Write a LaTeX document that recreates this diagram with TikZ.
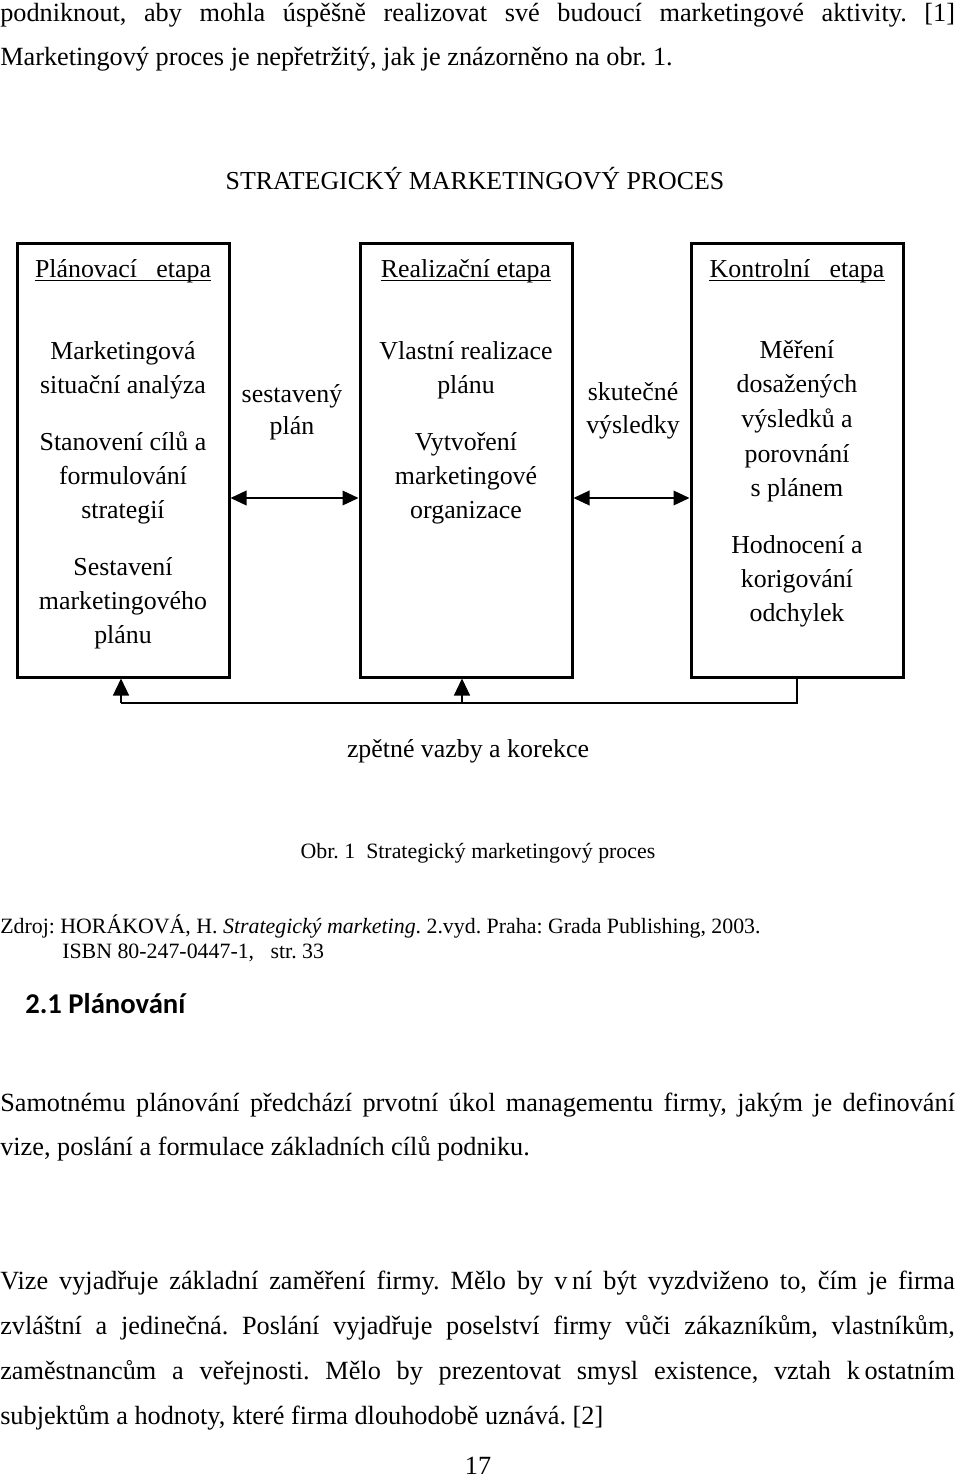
\documentclass[tikz,border=0pt]{standalone}
\usepackage{fontspec}
\setmainfont{Liberation Serif}
\newfontfamily\headfont{Carlito}
\usetikzlibrary{arrows.meta}
\frenchspacing
\tikzset{
  body/.style={anchor=base west, inner sep=0pt, font=\fontsize{19.7}{25.5}\selectfont},
  bodyc/.style={anchor=base, inner sep=0pt, font=\fontsize{19.7}{25.5}\selectfont},
  diag/.style={anchor=base, inner sep=0pt, font=\fontsize{19.4}{25.5}\selectfont},
  small/.style={anchor=base west, inner sep=0pt, font=\fontsize{16.4}{20}\selectfont},
  smallc/.style={anchor=base, inner sep=0pt, font=\fontsize{16.4}{20}\selectfont},
  stage/.style={draw, line width=2.25pt, minimum width=159pt, minimum height=325.5pt, inner sep=0pt},
  grp/.style={anchor=base, inner sep=0pt, font=\fontsize{19.4}{25.6}\selectfont},
  dbl/.style={{Triangle[length=12pt,width=11pt]}-{Triangle[length=12pt,width=11pt]}, line width=1.1pt},
  fb/.style={line width=0.9pt},
  fbarr/.style={-{Triangle[length=12.75pt,width=12pt]}, line width=0.9pt},
}
\newcommand\jline[1]{\makebox[716pt][s]{#1}}
\newcommand\grpbox[1]{\parbox[t]{180pt}{\centering #1}}
\begin{document}
\begin{tikzpicture}[x=0.75pt,y=-0.75pt]
\useasboundingbox (0,0) rectangle (960,1478);
% top text
\node[body] (l1) at (0,21) {\jline{podniknout, aby mohla úspěšně realizovat své budoucí marketingové aktivity. [1]}};
\node[body] (l2) at (0,65) {Marketingový proces je nepřetržitý, jak je znázorněno na obr. 1.};
\node[diag] (title) at (475,189) {STRATEGICKÝ MARKETINGOVÝ PROCES};
% boxes
\node[stage] (b1) at (123,460) {};
\node[stage] (b2) at (466,460) {};
\node[stage] (b3) at (797,460) {};
% headers
\node[diag] (h1) at (123,277) {Plánovací\ \ \ etapa};
\node[diag] (h2) at (466,277) {Realizační etapa};
\node[diag] (h3) at (797,277) {Kontrolní\ \ \ etapa};
\foreach \h in {h1,h2,h3}{
  \draw[line width=0.8pt] ([yshift=-2.3pt]\h.base west) -- ([yshift=-2.3pt]\h.base east);
}
% box 1 texts
\node[grp] (t11) at (123,359) {\grpbox{Marketingová\\situační analýza}};
\node[grp] (t12) at (123,450) {\grpbox{Stanovení cílů a\\formulování\\strategií}};
\node[grp] (t13) at (123,575) {\grpbox{Sestavení\\marketingového\\plánu}};
% box 2 texts
\node[grp] (t21) at (466,359) {\grpbox{Vlastní realizace\\plánu}};
\node[grp] (t22) at (466,450) {\grpbox{Vytvoření\\marketingové\\organizace}};
% box 3 texts
\node[grp, font=\fontsize{19.4}{26}\selectfont] (t31) at (797,358) {\grpbox{Měření\\dosažených\\výsledků a\\porovnání\\s plánem}};
\node[grp] (t32) at (797,553) {\grpbox{Hodnocení a\\korigování\\odchylek}};
% middle labels
\node[grp, font=\fontsize{19.4}{24}\selectfont] (m1) at (292,402) {\grpbox{sestavený\\plán}};
\node[grp, font=\fontsize{19.4}{24.75}\selectfont] (m2) at (633,400) {\grpbox{skutečné\\výsledky}};
% double arrows
\coordinate (ay) at (0,498);
\draw[dbl] (b1.east |- ay) -- (b2.west |- ay);
\draw[dbl] (b2.east |- ay) -- (b3.west |- ay);
% feedback
\coordinate (fy) at (0,703);
\coordinate (f1) at (121,703);
\coordinate (f2) at (462,703);
\draw[fb] (b3.south) -- (b3.south |- fy) -- (f1);
\draw[fbarr] (f1) -- (f1 |- b1.south);
\draw[fbarr] (f2) -- (f2 |- b2.south);
\node[diag] (fbl) at (468,757) {zpětné vazby a korekce};
% caption and source
\node[smallc] (cap) at (478,858) {Obr. 1\ \ Strategický marketingový proces};
\node[small] (src1) at (0,933) {Zdroj: HORÁKOVÁ, H. \textit{Strategický marketing}. 2.vyd. Praha: Grada Publishing, 2003.};
\node[small] (src2) at (62,958) {ISBN 80-247-0447-1,\ \ \ str. 33};
% heading
\node[anchor=base west, inner sep=0pt, font=\headfont\bfseries\fontsize{21.5}{25}\selectfont] (sec) at (25,1013) {2.1 Plánování};
% paragraphs
\node[body] (p1) at (0,1111) {\jline{Samotnému plánování předchází prvotní úkol managementu firmy, jakým je definování}};
\node[body] (p2) at (0,1155) {vize, poslání a formulace základních cílů podniku.};
\node[body] (p3) at (0,1289) {\jline{Vize vyjadřuje základní zaměření firmy. Mělo by \mbox{v\hspace{3.5pt}ní} být vyzdviženo to, čím je firma}};
\node[body] (p4) at (0,1334) {\jline{zvláštní a jedinečná. Poslání vyjadřuje poselství firmy vůči zákazníkům, vlastníkům,}};
\node[body] (p5) at (0,1379) {\jline{zaměstnancům a veřejnosti. Mělo by prezentovat smysl existence, vztah \mbox{k\hspace{3.5pt}ostatním}}};
\node[body] (p6) at (0,1424) {subjektům a hodnoty, které firma dlouhodobě uznává. [2]};
\node[bodyc] (pg) at (478,1474) {17};
\end{tikzpicture}
\end{document}
